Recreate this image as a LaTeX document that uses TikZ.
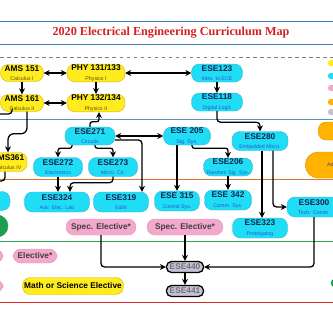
\documentclass[tikz,border=0pt]{standalone}
\usepackage{fontspec}
\setmainfont{Liberation Sans}
\newfontfamily\titlefont{Liberation Serif}
\usetikzlibrary{arrows.meta}

\definecolor{yelfill}{HTML}{FFEC1F}
\definecolor{yeldraw}{HTML}{D8B800}
\definecolor{cyfill}{HTML}{1FDDF5}
\definecolor{cydraw}{HTML}{3DB6D6}
\definecolor{pkfill}{HTML}{F3A8CC}
\definecolor{pkdraw}{HTML}{E597BD}
\definecolor{orfill}{HTML}{FFB300}
\definecolor{lvfill}{HTML}{C6C2D6}
\definecolor{grfill}{HTML}{1E9E4E}
\definecolor{navy}{HTML}{16244F}
\definecolor{subblue}{HTML}{2D55D0}
\definecolor{subolive}{HTML}{5A4A10}
\definecolor{titlered}{HTML}{D42020}
\definecolor{rulecol}{HTML}{3C7DBF}
\definecolor{yearblue}{HTML}{5E93B5}
\definecolor{yearorange}{HTML}{E2772A}
\definecolor{yeargreen}{HTML}{2FA35A}
\definecolor{yearred}{HTML}{E52222}
\colorlet{subc}{black}

\newcommand{\crsub}[1]{{\fontsize{4.5}{5}\selectfont\mdseries\color{subc}#1}}

\begin{document}
\begin{tikzpicture}[
    x=0.03cm, y=-0.03cm,
    box/.style={rounded corners=0.24cm, inner xsep=1pt, inner ysep=0.5pt, align=center, font=\fontsize{7.1}{8}\selectfont\bfseries},
    yel/.style={box, fill=yelfill, draw=yeldraw, text=black, execute at begin node={\colorlet{subc}{subolive}}},
    cy/.style={box, fill=cyfill, draw=cydraw, text=navy, execute at begin node={\colorlet{subc}{subblue}}},
    pk/.style={box, fill=pkfill, draw=pkdraw, text=black!75},
    orng/.style={box, fill=orfill, draw=orfill!85!black, align=left, execute at begin node={\colorlet{subc}{black!70}}},
    capstone/.style={box, fill=lvfill, draw=black, line width=1.1pt, rounded corners=0.15cm, text=black!55, minimum width=1.11cm, minimum height=0.33cm},
    keybox/.style={box, minimum width=0.48cm, minimum height=0.18cm, rounded corners=0.08cm},
    conn/.style={line width=1.1pt, rounded corners=3pt},
    arrow/.style={conn, ->, >={Stealth[length=5pt, width=5pt]}}
]
\useasboundingbox (0,0) rectangle (333,333);

% Title
\draw[rulecol, line width=0.7pt] (0,21) -- (333,21);
\draw[rulecol, line width=0.7pt] (0,44) -- (333,44);
\node[font=\titlefont\fontsize{10.4}{12}\selectfont\bfseries, text=titlered] (title) at (171,33) {2020 Electrical Engineering Curriculum Map};

% Year bands
\draw[gray, dashed] (0,57) -- (333,57);
\draw[yearblue, line width=0.8pt] (0,119) -- (333,119);
\draw[yearorange, line width=0.8pt] (0,179) -- (333,179);
\draw[yeargreen, line width=0.8pt] (0,241) -- (333,241);
\draw[yearred, line width=0.8pt] (0,302) -- (333,302);

% Legend keys
\node[keybox, fill=yelfill] (keyyel) at (336,63) {};
\node[keybox, fill=cyfill] (keycy) at (336,76) {};
\node[keybox, fill=pkfill] (keypk) at (336,88) {};
\node[keybox, fill=orfill] (keyor) at (336,102) {};
\node[keybox, fill=lvfill] (keylv) at (336,112) {};

% Year 1
\node[yel, minimum width=1.29cm, minimum height=0.51cm] (ams151) at (22,73) {AMS 151\\\crsub{Calculus I}};
\node[yel, minimum width=1.29cm, minimum height=0.51cm] (ams161) at (22,103) {AMS 161\\\crsub{Calculus II}};
\node[yel, minimum width=1.74cm, minimum height=0.51cm] (phy131) at (96,73) {PHY 131/133\\\crsub{Physics I}};
\node[yel, minimum width=1.74cm, minimum height=0.51cm] (phy132) at (96,103) {PHY 132/134\\\crsub{Physics II}};
\node[cy, minimum width=1.53cm, minimum height=0.54cm] (ese123) at (217,73) {ESE123\\\crsub{Intro. to ECE}};
\node[cy, minimum width=1.53cm, minimum height=0.54cm] (ese118) at (217,102) {ESE118\\\crsub{Digital Logic}};

% Year 2
\node[yel, minimum width=1.14cm, minimum height=0.57cm] (ams361) at (8,162) {AMS361\\\crsub{Calculus IV}};
\node[cy, minimum width=1.5cm, minimum height=0.54cm] (ese271) at (90,136) {ESE271\\\crsub{Circuits}};
\node[cy, minimum width=1.41cm, minimum height=0.54cm] (ese205) at (187,136) {ESE 205\\\crsub{Sig. Sys.}};
\node[cy, minimum width=1.68cm, minimum height=0.57cm] (ese280) at (260,141) {ESE280\\\crsub{Embedded Micro.}};
\node[cy, minimum width=1.47cm, minimum height=0.57cm] (ese272) at (58,167) {ESE272\\\crsub{Electronics}};
\node[cy, minimum width=1.47cm, minimum height=0.57cm] (ese273) at (113,167) {ESE273\\\crsub{Micro. Cir.}};
\node[cy, minimum width=1.47cm, minimum height=0.54cm] (ese206) at (228,167) {ESE206\\\crsub{Random Sig. Sys.}};
\node[orng, anchor=west, minimum width=1.1cm, minimum height=0.54cm, inner xsep=0.36cm] (advA) at (318,131) {E\\\crsub{P}};
\node[orng, anchor=west, minimum width=1.5cm, minimum height=0.78cm, rounded corners=0.39cm, inner xsep=0.6cm] (advB) at (305,165) {\crsub{Ad}};

% Year 3
\node[cy, minimum width=1.32cm, minimum height=0.57cm] (cyleft) at (-12,201) {};
\node[box, fill=grfill, draw=grfill, minimum width=0.72cm, minimum height=0.66cm, rounded corners=0.33cm] (grleft) at (-4,226) {};
\node[cy, minimum width=1.95cm, minimum height=0.6cm] (ese324) at (57,202) {ESE324\\\crsub{Adv. Elec. Lab}};
\node[cy, minimum width=1.65cm, minimum height=0.6cm] (ese319) at (121,202) {ESE319\\\crsub{E\&M}};
\node[cy, minimum width=1.35cm, minimum height=0.6cm] (ese315) at (177,201) {ESE 315\\\crsub{Control Sys.}};
\node[cy, minimum width=1.41cm, minimum height=0.6cm] (ese342) at (228,200) {ESE 342\\\crsub{Comm. Sys.}};
\node[cy, minimum width=1.62cm, minimum height=0.6cm] (ese300) at (314,207) {ESE300\\\crsub{Tech. Comm.}};
\node[cy, minimum width=1.65cm, minimum height=0.6cm] (ese323) at (260,228) {ESE323\\\crsub{Prototyping}};
\node[pk, minimum width=2.1cm, minimum height=0.48cm] (spec1) at (101,227) {Spec. Elective*};
\node[pk, minimum width=2.28cm, minimum height=0.48cm] (spec2) at (185,227) {Spec. Elective*};

% Year 4
\node[pk, minimum width=1.08cm, minimum height=0.42cm] (pkleftA) at (-15,256) {};
\node[pk, minimum width=1.08cm, minimum height=0.39cm] (pkleftB) at (-15,286) {};
\node[pk, minimum width=1.32cm, minimum height=0.42cm] (elective) at (35,256) {Elective*};
\node[yel, minimum width=3.03cm, minimum height=0.51cm] (mathsci) at (73,286) {Math or Science Elective};
\node[capstone] (ese440) at (185,267) {ESE440};
\node[capstone] (ese441) at (185,291) {ESE441};
\node[box, fill=grfill, draw=grfill, minimum width=0.54cm, minimum height=0.24cm, rounded corners=0.12cm] (grright) at (340,283) {};

% Arrows
\coordinate (offa) at (-5,114);
\coordinate (offb) at (-5,181);
\draw[arrow, <->] (ams151) -- (phy131);
\draw[arrow, <->] (ams161) -- (phy132);
\draw[arrow] (ams151) -- (ams161);
\draw[arrow] (phy131) -- (phy132);
\draw[arrow, <->] (phy131) -- (ese123);
\draw[arrow] (ese123) -- (ese118);
\draw[arrow] (ese118.south) -- ++(0,11) -| (ese280.north);
\draw[arrow, rounded corners=5pt] ([xshift=0.15cm]ams161.south) -- ++(0,22) -| (ams361.north);
\draw[conn] ([xshift=-0.3cm]ams161.south) |- (offa);
\draw[conn] ([xshift=-0.09cm]ams361.south) |- (offb);
\draw[arrow, rounded corners=2pt] (ese271.north) -- ++(0,-5) -| ([xshift=0.09cm]phy132.south);
\draw[arrow, <->] (ese271) -- (ese205);
\draw[arrow, rounded corners=2pt] ([xshift=-0.54cm]ese271.south) -- ++(0,3) -| (ese272.north);
\draw[arrow, rounded corners=2pt] ([xshift=0.15cm]ese271.south) -- ++(0,3) -| (ese273.north);
\draw[arrow] ([yshift=-0.12cm]ese271.east) -| ([xshift=0.63cm]ese319.north);
\draw[arrow] (ese272.south) -- (ese272.south |- ese324.north);
\draw[arrow] (ese273.south) -- ++(0,6) -| ([xshift=0.39cm]ese324.north);
\draw[arrow] ([xshift=-0.3cm]ese205.south) -- ([xshift=-0.3cm]ese205.south |- ese315.north);
\draw[arrow, rounded corners=2pt] ([xshift=0.15cm]ese205.south) -- ++(0,3) -| (ese206.north);
\draw[arrow] (ese206) -- (ese342);
\draw[arrow] ([xshift=0.06cm]ese280.south) -- ([xshift=0.06cm]ese280.south |- ese323.north);
\draw[arrow] ([xshift=0.39cm]ese280.south) |- (ese300.west);
\draw[arrow] (spec1.south) |- (ese440.west);
\draw[arrow] (spec2) -- (ese440);
\draw[arrow] (ese300.south) |- (ese440.east);
\draw[arrow] (ese440) -- (ese441);
\end{tikzpicture}
\end{document}
